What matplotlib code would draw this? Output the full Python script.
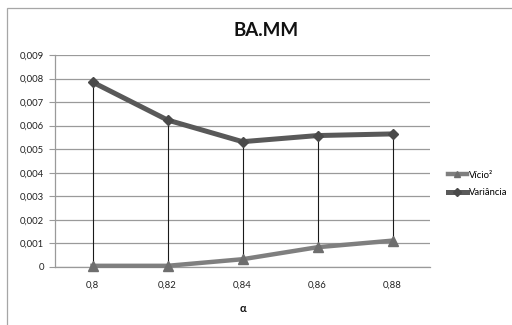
import matplotlib
matplotlib.use("Agg")
import matplotlib.pyplot as plt
from matplotlib.patches import Rectangle
from matplotlib.lines import Line2D

alpha_labels = ["0,8", "0,82", "0,84", "0,86", "0,88"]
vicio2 = [0.00005, 0.00005, 0.00033, 0.00084, 0.00112]
variancia = [0.00785, 0.00624, 0.00532, 0.00558, 0.00565]
y_ticks = [0, 0.001, 0.002, 0.003, 0.004, 0.005, 0.006, 0.007, 0.008, 0.009]
y_tick_labels = ["0", "0,001", "0,002", "0,003", "0,004", "0,005", "0,006",
                 "0,007", "0,008", "0,009"]

plt.rcParams["font.family"] = ["Lato", "DejaVu Sans"]

fig = plt.figure(figsize=(5.12, 3.25), dpi=100)
W, H = 512, 325

# outer chart frame
fig.patches.append(Rectangle((7 / W, -0.1), 1.2, (325 - 8) / H + 0.1,
                             transform=fig.transFigure, fill=False,
                             edgecolor="#a6a6a6", linewidth=0.9))

ax = fig.add_axes([55 / W, 1 - 267 / H, (430 - 55) / W, (267 - 55) / H])
x = list(range(len(alpha_labels)))

ax.set_xlim(-0.5, len(alpha_labels) - 0.5)
ax.set_ylim(0, 0.009)
ax.set_yticks(y_ticks)
ax.set_yticklabels(y_tick_labels)
ax.set_xticks(x)
ax.set_xticklabels(alpha_labels)

ax.grid(axis="y", color="#9a9a9a", linewidth=0.9)
ax.set_axisbelow(True)
for side in ("top", "right"):
    ax.spines[side].set_visible(False)
for side in ("left", "bottom"):
    ax.spines[side].set_color("#9a9a9a")
    ax.spines[side].set_linewidth(0.9)

ax.tick_params(axis="y", length=4, color="#9a9a9a", labelsize=6.8,
               labelcolor="#222222", pad=4)
ax.tick_params(axis="x", length=0, labelsize=6.8, labelcolor="#222222", pad=10)

# high-low lines between the two series
ax.vlines(x, vicio2, variancia, color="#1a1a1a", linewidth=0.8, zorder=2)

ax.plot(x, vicio2, color="#7f7f7f", linewidth=3.2, marker="^",
        markersize=7, markerfacecolor="#6e6e6e", markeredgecolor="#6e6e6e",
        zorder=3, clip_on=False)
ax.plot(x, variancia, color="#595959", linewidth=3.6, marker="D",
        markersize=5, markerfacecolor="#4a4a4a", markeredgecolor="#4a4a4a",
        zorder=4, clip_on=False)

fig.text(266 / W, 1 - 30 / H, "BA.MM", ha="center", va="center",
         fontsize=13.5, fontweight="bold", color="#111111")
fig.text(243 / W, 1 - 308 / H, "α", ha="center", va="center",
         fontsize=8, fontweight="bold", color="#111111")

handles = [
    Line2D([], [], color="#7f7f7f", linewidth=3.2, marker="^", markersize=5,
           markerfacecolor="#6e6e6e", markeredgecolor="#6e6e6e"),
    Line2D([], [], color="#595959", linewidth=3.6, marker="D", markersize=4,
           markerfacecolor="#4a4a4a", markeredgecolor="#4a4a4a"),
]
fig.legend(handles, ["Vício²", "Variância"], loc="center left",
           bbox_to_anchor=(443 / W, 1 - 184 / H), frameon=False,
           fontsize=6.8, handlelength=2.0, handletextpad=0.25,
           labelspacing=0.9, borderpad=0)

fig.savefig("out.png", dpi=100)
